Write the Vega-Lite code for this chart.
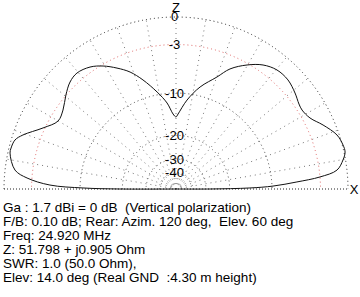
{
  "$schema": "https://vega.github.io/schema/vega-lite/v6.json",
  "width": 352,
  "height": 180,
  "autosize": {"type": "none"},
  "padding": {"left": 0, "top": 9, "right": 8, "bottom": 108},
  "background": "white",
  "config": {"view": {"stroke": null}, "font": "Liberation Sans"},
  "title": {
    "text": [
      "Ga : 1.7 dBi = 0 dB \u00a0(Vertical polarization)",
      "F/B: 0.10 dB; Rear: Azim. 120 deg, \u00a0Elev. 60 deg",
      "Freq: 24.920 MHz",
      "Z: 51.798 + j0.905 Ohm",
      "SWR: 1.0 (50.0 Ohm),",
      "Elev: 14.0 deg (Real GND \u00a0:4.30 m height)"
    ],
    "orient": "bottom",
    "anchor": "start",
    "frame": "group",
    "font": "Liberation Sans",
    "fontSize": 13.5,
    "fontWeight": "normal",
    "color": "black",
    "lineHeight": 14,
    "offset": 4,
    "dx": 3
  },
  "datasets": {
    "pattern": [
      {"i": 0, "x": 0, "y": 0},
      {"i": 1, "x": -0.326, "y": 0.0},
      {"i": 2, "x": -0.541, "y": 0.006},
      {"i": 3, "x": -0.733, "y": 0.023},
      {"i": 4, "x": -0.866, "y": 0.064},
      {"i": 5, "x": -0.936, "y": 0.11},
      {"i": 6, "x": -0.965, "y": 0.209},
      {"i": 7, "x": -0.959, "y": 0.238},
      {"i": 8, "x": -0.936, "y": 0.285},
      {"i": 9, "x": -0.89, "y": 0.314},
      {"i": 10, "x": -0.773, "y": 0.355},
      {"i": 11, "x": -0.686, "y": 0.395},
      {"i": 12, "x": -0.657, "y": 0.459},
      {"i": 13, "x": -0.64, "y": 0.547},
      {"i": 14, "x": -0.616, "y": 0.622},
      {"i": 15, "x": -0.576, "y": 0.674},
      {"i": 16, "x": -0.5, "y": 0.709},
      {"i": 17, "x": -0.424, "y": 0.715},
      {"i": 18, "x": -0.343, "y": 0.703},
      {"i": 19, "x": -0.267, "y": 0.68},
      {"i": 20, "x": -0.192, "y": 0.634},
      {"i": 21, "x": -0.11, "y": 0.564},
      {"i": 22, "x": -0.052, "y": 0.5},
      {"i": 23, "x": -0.017, "y": 0.436},
      {"i": 24, "x": 0.0, "y": 0.419},
      {"i": 25, "x": 0.012, "y": 0.436},
      {"i": 26, "x": 0.064, "y": 0.517},
      {"i": 27, "x": 0.14, "y": 0.593},
      {"i": 28, "x": 0.238, "y": 0.651},
      {"i": 29, "x": 0.314, "y": 0.698},
      {"i": 30, "x": 0.413, "y": 0.721},
      {"i": 31, "x": 0.506, "y": 0.721},
      {"i": 32, "x": 0.587, "y": 0.692},
      {"i": 33, "x": 0.651, "y": 0.634},
      {"i": 34, "x": 0.692, "y": 0.558},
      {"i": 35, "x": 0.715, "y": 0.494},
      {"i": 36, "x": 0.733, "y": 0.459},
      {"i": 37, "x": 0.779, "y": 0.413},
      {"i": 38, "x": 0.855, "y": 0.372},
      {"i": 39, "x": 0.936, "y": 0.314},
      {"i": 40, "x": 0.971, "y": 0.256},
      {"i": 41, "x": 0.983, "y": 0.215},
      {"i": 42, "x": 0.971, "y": 0.169},
      {"i": 43, "x": 0.936, "y": 0.11},
      {"i": 44, "x": 0.837, "y": 0.07},
      {"i": 45, "x": 0.703, "y": 0.041},
      {"i": 46, "x": 0.564, "y": 0.017},
      {"i": 47, "x": 0.43, "y": 0.006},
      {"i": 48, "x": 0.198, "y": 0.0},
      {"i": 49, "x": 0, "y": 0}
    ],
    "rings": [
      {"db": "0", "r": 1.0, "label": "0"},
      {"db": "-3", "r": 0.84, "label": "-3"},
      {"db": "-10", "r": 0.558, "label": "-10"},
      {"db": "-20", "r": 0.312, "label": "-20"},
      {"db": "-30", "r": 0.174, "label": "-30"},
      {"db": "-40", "r": 0.097, "label": "-40"}
    ],
    "spokes": [
      {"deg": 10, "cx": 0, "cy": 0, "ex": 0.9848, "ey": 0.1736},
      {"deg": 20, "cx": 0, "cy": 0, "ex": 0.9397, "ey": 0.342},
      {"deg": 30, "cx": 0, "cy": 0, "ex": 0.866, "ey": 0.5},
      {"deg": 40, "cx": 0, "cy": 0, "ex": 0.766, "ey": 0.6428},
      {"deg": 50, "cx": 0, "cy": 0, "ex": 0.6428, "ey": 0.766},
      {"deg": 60, "cx": 0, "cy": 0, "ex": 0.5, "ey": 0.866},
      {"deg": 70, "cx": 0, "cy": 0, "ex": 0.342, "ey": 0.9397},
      {"deg": 80, "cx": 0, "cy": 0, "ex": 0.1736, "ey": 0.9848},
      {"deg": 90, "cx": 0, "cy": 0, "ex": 0, "ey": 1},
      {"deg": 100, "cx": 0, "cy": 0, "ex": -0.1736, "ey": 0.9848},
      {"deg": 110, "cx": 0, "cy": 0, "ex": -0.342, "ey": 0.9397},
      {"deg": 120, "cx": 0, "cy": 0, "ex": -0.5, "ey": 0.866},
      {"deg": 130, "cx": 0, "cy": 0, "ex": -0.6428, "ey": 0.766},
      {"deg": 140, "cx": 0, "cy": 0, "ex": -0.766, "ey": 0.6428},
      {"deg": 150, "cx": 0, "cy": 0, "ex": -0.866, "ey": 0.5},
      {"deg": 160, "cx": 0, "cy": 0, "ex": -0.9397, "ey": 0.342},
      {"deg": 170, "cx": 0, "cy": 0, "ex": -0.9848, "ey": 0.1736}
    ],
    "baseline": [
      {"x1": -1, "x2": 1, "y": 0}
    ],
    "axes": [
      {"name": "Z", "ax": 0, "ay": 1.052},
      {"name": "X", "ax": 1.035, "ay": -0.003}
    ]
  },
  "layer": [
    {
      "data": {"name": "spokes"},
      "mark": {"type": "rule", "color": "#777", "strokeWidth": 1, "strokeDash": [1, 4]},
      "encoding": {
        "x": {"field": "cx", "type": "quantitative", "scale": {"domain": [-1.02326, 1.02326]}, "axis": null},
        "y": {"field": "cy", "type": "quantitative", "scale": {"domain": [0, 1.0465]}, "axis": null},
        "x2": {"field": "ex"},
        "y2": {"field": "ey"}
      }
    },
    {
      "data": {"name": "rings"},
      "mark": {"type": "point", "shape": "circle", "filled": false, "clip": true, "strokeWidth": 1, "strokeDash": [1, 3], "opacity": 1},
      "encoding": {
        "x": {"datum": 0, "type": "quantitative", "scale": {"domain": [-1.02326, 1.02326]}, "axis": null},
        "y": {"datum": 0, "type": "quantitative", "scale": {"domain": [0, 1.0465]}, "axis": null},
        "size": {"field": "r", "type": "quantitative", "scale": {"type": "pow", "exponent": 2, "domain": [0, 1], "range": [0, 118336], "zero": true}, "legend": null},
        "stroke": {"field": "db", "type": "nominal", "scale": {"domain": ["0", "-3", "-10", "-20", "-30", "-40"], "range": ["#222222", "#e06666", "#444444", "#555555", "#666666", "#666666"]}, "legend": null}
      }
    },
    {
      "data": {"name": "baseline"},
      "mark": {"type": "rule", "color": "#222", "strokeWidth": 1, "strokeDash": [1, 2]},
      "encoding": {
        "x": {"field": "x1", "type": "quantitative", "scale": {"domain": [-1.02326, 1.02326]}, "axis": null},
        "x2": {"field": "x2"},
        "y": {"field": "y", "type": "quantitative", "scale": {"domain": [0, 1.0465]}, "axis": null}
      }
    },
    {
      "data": {"name": "pattern"},
      "mark": {"type": "line", "color": "#111", "strokeWidth": 1, "interpolate": "catmull-rom"},
      "encoding": {
        "x": {"field": "x", "type": "quantitative", "scale": {"domain": [-1.02326, 1.02326]}, "axis": null},
        "y": {"field": "y", "type": "quantitative", "scale": {"domain": [0, 1.0465]}, "axis": null},
        "order": {"field": "i", "type": "quantitative"}
      }
    },
    {
      "data": {"name": "rings"},
      "mark": {"type": "text", "fontSize": 13, "font": "Liberation Sans", "align": "center", "baseline": "middle", "dx": -1.5, "dy": 0.5, "color": "black"},
      "encoding": {
        "x": {"datum": 0, "type": "quantitative", "scale": {"domain": [-1.02326, 1.02326]}, "axis": null},
        "y": {"field": "r", "type": "quantitative", "scale": {"domain": [0, 1.0465]}, "axis": null},
        "text": {"field": "label"}
      }
    },
    {
      "data": {"name": "axes"},
      "mark": {"type": "text", "fontSize": 13, "font": "Liberation Sans", "align": "center", "baseline": "middle", "color": "black"},
      "encoding": {
        "x": {"field": "ax", "type": "quantitative", "scale": {"domain": [-1.02326, 1.02326]}, "axis": null},
        "y": {"field": "ay", "type": "quantitative", "scale": {"domain": [0, 1.0465]}, "axis": null},
        "text": {"field": "name"}
      }
    }
  ]
}
